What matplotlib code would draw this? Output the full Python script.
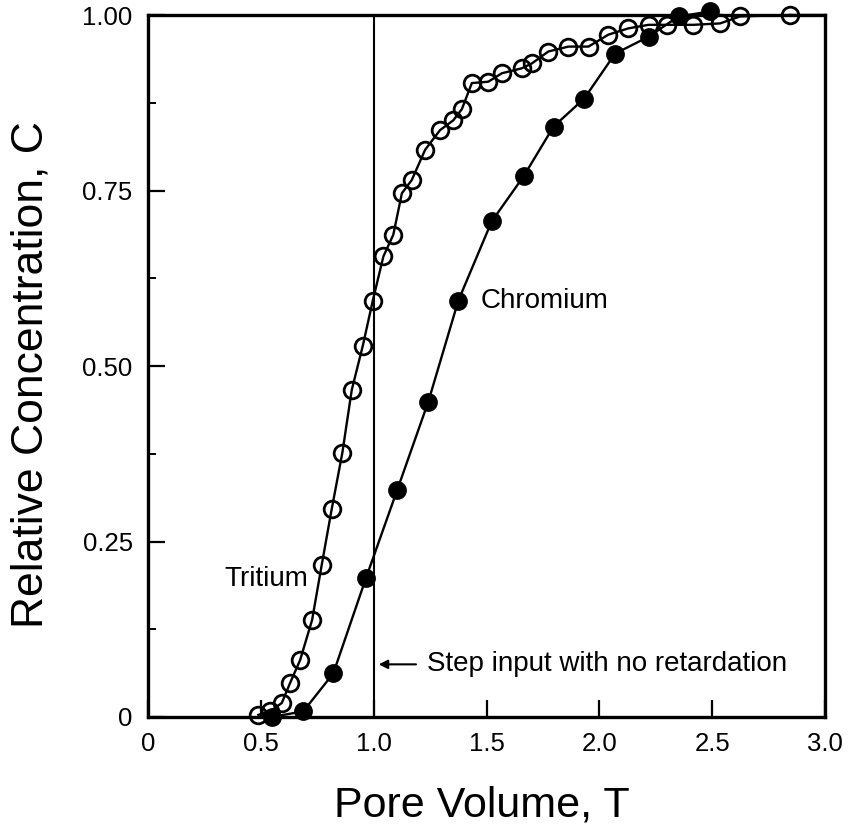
import matplotlib
matplotlib.use("Agg")
import matplotlib.pyplot as plt
from matplotlib.ticker import MultipleLocator

plt.rcParams['font.family'] = ['Liberation Sans', 'DejaVu Sans']

tritium_x = [0.489, 0.541, 0.593, 0.629, 0.674, 0.727, 0.770, 0.814, 0.861, 0.903,
             0.952, 0.996, 1.043, 1.087, 1.125, 1.169, 1.228, 1.294, 1.353, 1.391,
             1.435, 1.508, 1.568, 1.656, 1.701, 1.774, 1.863, 1.952, 2.040, 2.129,
             2.218, 2.299, 2.416, 2.535, 2.624, 2.846]
tritium_y = [0.003, 0.008, 0.020, 0.048, 0.081, 0.138, 0.217, 0.296, 0.376, 0.466,
             0.529, 0.593, 0.656, 0.687, 0.746, 0.765, 0.808, 0.836, 0.850, 0.866,
             0.903, 0.905, 0.917, 0.924, 0.931, 0.948, 0.955, 0.955, 0.972, 0.981,
             0.986, 0.986, 0.986, 0.988, 0.998, 1.000]

chromium_x = [0.548, 0.688, 0.821, 0.966, 1.105, 1.242, 1.375, 1.523, 1.664, 1.797,
              1.933, 2.070, 2.218, 2.351, 2.491]
chromium_y = [0.000, 0.008, 0.062, 0.198, 0.324, 0.449, 0.593, 0.706, 0.770, 0.841,
              0.881, 0.945, 0.969, 0.998, 1.005]

x_ticks = [0, 0.5, 1.0, 1.5, 2.0, 2.5, 3.0]
x_tick_labels = ["0", "0.5", "1.0", "1.5", "2.0", "2.5", "3.0"]
y_ticks = [0, 0.25, 0.50, 0.75, 1.00]
y_tick_labels = ["0", "0.25", "0.50", "0.75", "1.00"]

fig = plt.figure(figsize=(8.5, 8.33), dpi=100)
ax = fig.add_axes([148/850, 1 - 717/833, (825-148)/850, (717-15)/833])

ax.plot(tritium_x, tritium_y, '-', color='black', lw=1.7, marker='o', ms=12,
        mfc='none', mec='black', mew=2.0, clip_on=False, zorder=3)
ax.plot(chromium_x, chromium_y, '-', color='black', lw=1.7, marker='o', ms=12.5,
        mfc='black', mec='black', clip_on=False, zorder=4)

ax.plot([1.0, 1.0], [0, 1.0], color='black', lw=1.5, zorder=2)
ax.plot([2.846, 3.0], [1.0, 1.0], color='black', lw=1.7, zorder=2, clip_on=False)

ax.set_xlim(0, 3.0)
ax.set_ylim(0, 1.0)
ax.set_xticks(x_ticks)
ax.set_xticklabels(x_tick_labels)
ax.set_yticks(y_ticks)
ax.set_yticklabels(y_tick_labels)
ax.yaxis.set_minor_locator(MultipleLocator(0.125))
ax.tick_params(axis='both', which='major', direction='in', length=12, width=1.6,
               labelsize=18.5, pad=11, top=False, right=False)
ax.tick_params(axis='y', which='minor', direction='in', length=6, width=1.4, right=False)
for s in ax.spines.values():
    s.set_linewidth(2.4)

ax.text(0.71, 0.197, "Tritium", fontsize=20, ha='right', va='center')
ax.text(1.472, 0.593, "Chromium", fontsize=20, ha='left', va='center')
ax.text(1.235, 0.075, "Step input with no retardation", fontsize=20, ha='left', va='center')
ax.annotate("", xy=(1.01, 0.075), xytext=(1.2, 0.075),
            arrowprops=dict(arrowstyle='-|>', color='black', lw=1.5, mutation_scale=13))

fig.text(482/850, 1 - 806/833, "Pore Volume, T", fontsize=31, ha='center', va='center')
fig.text(31/850, 1 - 375/833, "Relative Concentration, C", fontsize=32,
         ha='center', va='center', rotation=90)

fig.savefig("out.png", dpi=100)
